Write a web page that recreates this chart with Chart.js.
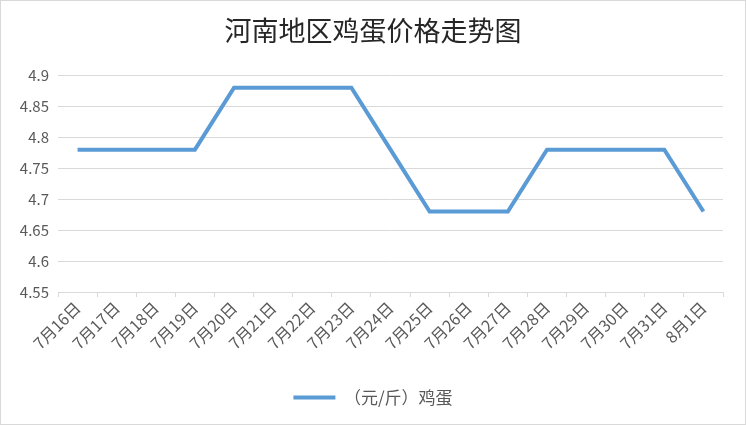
<!DOCTYPE html>
<html>
<head>
<meta charset="utf-8">
<script src="https://cdn.jsdelivr.net/npm/chart.js@4.4.1/dist/chart.umd.min.js"></script>
<style>
  html, body { margin: 0; padding: 0; background: #fff; }
  .frame {
    width: 746px; height: 425px; box-sizing: border-box;
    border: 1px solid #d9d9d9; background: #fff;
  }
  canvas { display: block; }
</style>
</head>
<body>
<div class="frame">
  <canvas id="eggChart" width="744" height="423"></canvas>
</div>
<script>
// 河南地区鸡蛋价格 (元/斤)
const dates = ["7月16日", "7月17日", "7月18日", "7月19日", "7月20日", "7月21日",
  "7月22日", "7月23日", "7月24日", "7月25日", "7月26日", "7月27日",
  "7月28日", "7月29日", "7月30日", "7月31日", "8月1日"];
const eggPrices = [4.78, 4.78, 4.78, 4.78, 4.88, 4.88, 4.88, 4.88, 4.78,
  4.68, 4.68, 4.68, 4.78, 4.78, 4.78, 4.78, 4.68];
const yMin = 4.55;
const yMax = 4.9;
const yStep = 0.05;

const FONT = "'Noto Sans CJK SC', 'Noto Sans', sans-serif";
const GREY = "#595959";
const GRID = "#d9d9d9";

new Chart(document.getElementById("eggChart"), {
  type: "line",
  data: {
    labels: dates,
    datasets: [
      {
        label: "（元/斤）鸡蛋",
        data: eggPrices,
        borderColor: "#5b9bd5",
        backgroundColor: "#5b9bd5",
        borderWidth: 4,
        pointRadius: 0,
        pointHoverRadius: 0,
        tension: 0,
        pointStyle: "line",
      },
    ],
  },
  options: {
    responsive: false,
    animation: false,
    layout: { padding: { left: 0, right: 0, top: 0, bottom: 8 } },
    plugins: {
      title: {
        display: true,
        text: "河南地区鸡蛋价格走势图",
        color: "#262626",
        font: { family: FONT, size: 27, weight: "normal" },
        padding: { top: 14, bottom: 28 },
      },
      legend: {
        position: "bottom",
        labels: {
          usePointStyle: true,
          pointStyleWidth: 42,
          color: GREY,
          font: { family: FONT, size: 17 },
          padding: 6,
        },
      },
      tooltip: { enabled: false },
    },
    scales: {
      x: {
        offset: true,
        grid: {
          offset: true,
          drawOnChartArea: false,
          drawTicks: true,
          tickLength: 5,
          color: GRID,
        },
        border: { color: GRID, width: 1 },
        ticks: {
          color: GREY,
          font: { family: FONT, size: 16 },
          maxRotation: 45,
          minRotation: 45,
          autoSkip: false,
          padding: 1,
        },
        afterFit: (scale) => { scale.height = 91; },
      },
      y: {
        min: yMin,
        max: yMax,
        border: { display: false },
        grid: { color: GRID, drawTicks: false },
        ticks: {
          stepSize: yStep,
          color: GREY,
          font: { family: FONT, size: 15 },
          padding: 9,
          callback: (v) => String(Number(v.toFixed(2))),
        },
        afterFit: (scale) => { scale.width = 57; },
      },
      // empty right margin so title and legend stay centred on the page
      spacer: {
        type: "linear",
        position: "right",
        display: true,
        border: { display: false },
        grid: { display: false },
        ticks: { display: false },
        afterFit: (scale) => { scale.width = 22; },
      },
    },
  },
});
</script>
</body>
</html>
